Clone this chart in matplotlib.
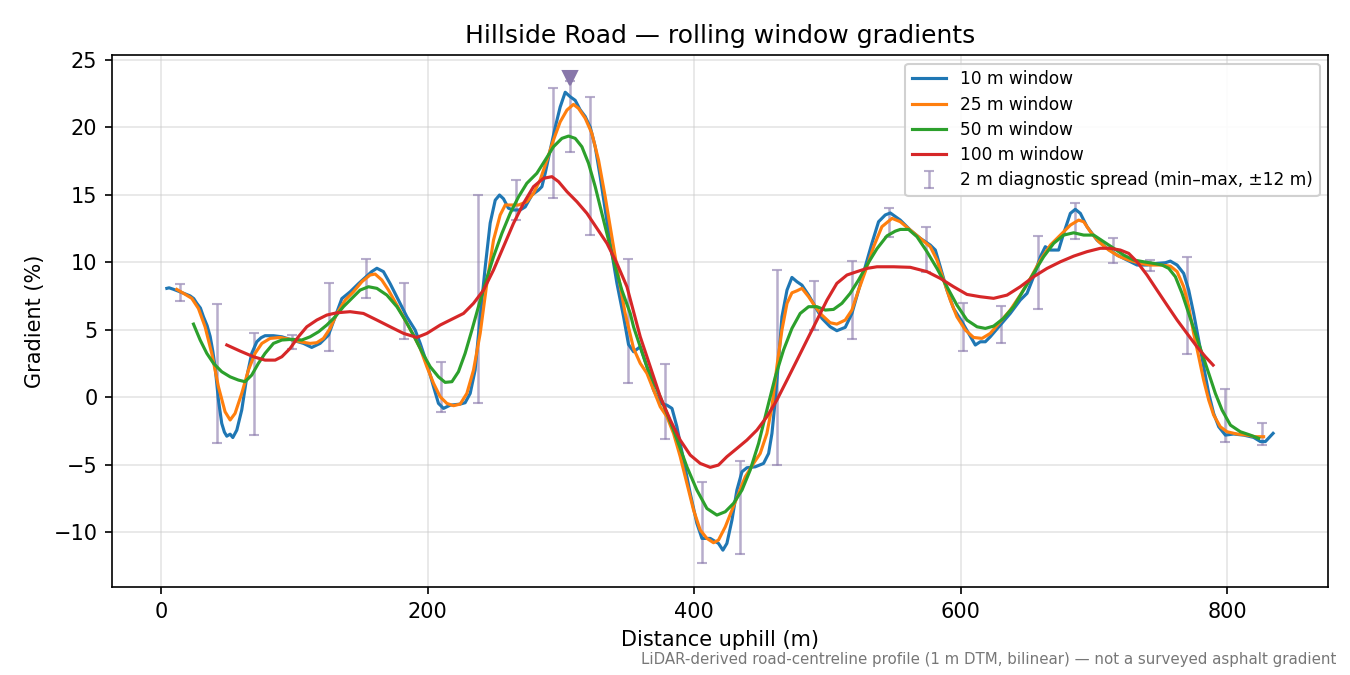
import matplotlib
matplotlib.use("Agg")
import matplotlib.pyplot as plt
import numpy as np

# 10 m window
x10 = [4.3, 6, 9, 14.3, 18, 21.8, 24.5, 26.8, 29.5, 31.8, 34.5, 36.8, 38.8, 40.5, 43, 45.5, 47.5, 49.3, 51.8, 53.8, 56.8,
       60.5, 64.3, 68, 71.8, 75, 78, 84.3, 90.6, 99.3, 106.8, 113, 119.3, 125.6, 130.6, 135.6, 141.8, 148, 154.4, 158,
       161.9, 166.8, 171.9, 178, 184.4, 190.6, 194.4, 199.4, 204.4, 208.1, 211.9, 216.9, 224.4, 228.1, 231.9, 235.6,
       239.4, 243.2, 246.9, 250.7, 253.9, 256.9, 260.6, 264.4, 269.4, 273.2, 278.2, 283.2, 285.7, 288.2, 291.9, 295.7,
       299.4, 303.2, 306.9, 310.7, 314.4, 318.2, 322, 325.7, 329.5, 333.2, 337, 342, 347, 350.7, 354.5, 359.5, 364.5,
       369.5, 374.5, 379.5, 383.3, 387, 392, 397, 402, 405.8, 412, 418.2, 421.5, 424.5, 428.3, 432, 435.8, 439.5, 445.8,
       452, 455.8, 458.3, 460.8, 463.3, 465.8, 469.6, 473.3, 477.1, 480.8, 485.8, 490.8, 495.8, 502, 507, 513.3, 518.3,
       523.3, 528.3, 533.3, 538.3, 543.3, 547.1, 554.6, 562.1, 569.6, 577.1, 580.9, 584.6, 589.6, 594.6, 600.9, 605.9,
       610.9, 614.6, 618.4, 622.1, 629.6, 637.1, 644.6, 649.7, 654.6, 659.7, 663.4, 667.2, 673.4, 677.2, 682.2, 685.9,
       689.7, 694.7, 702.2, 709.7, 717.2, 724.7, 732.2, 739.7, 747.2, 753.5, 757.2, 762.3, 767.2, 771, 774.7, 778.5,
       782.2, 786, 789.7, 793.5, 798.5, 804.7, 812.2, 819.7, 824.8, 828.5, 834.3]
y10 = [8.06, 8.1, 8.0, 7.8, 7.65, 7.5, 7.3, 6.95, 6.6, 5.95, 5.3, 4.5, 3.4, 2.25, -0.2, -1.95, -2.6, -2.9, -2.75, -3.0, -2.45,
       -0.96, 1.5, 3.24, 4.1, 4.4, 4.55, 4.55, 4.47, 4.2, 3.98, 3.68, 3.98, 4.6, 5.95, 7.3, 7.8, 8.4, 8.97, 9.3,
       9.55, 9.3, 8.4, 7.2, 5.95, 4.97, 3.98, 2.5, 0.77, -0.47, -0.84, -0.6, -0.52, -0.42, 0.27, 2.0,
       5.95, 9.66, 12.9, 14.6, 14.98, 14.7, 14.0, 13.87, 13.87, 14.1, 14.98, 15.35, 15.6, 16.6, 18.3, 20.0,
       21.5, 22.6, 22.27, 22.0, 21.3, 20.8, 20.0, 18.56, 16.3, 13.87, 11.4, 8.43, 5.95, 3.9, 3.36, 3.73, 2.25,
       0.52, -0.47, -0.6, -0.84, -2.2, -4.67, -7.14, -9.37, -10.48, -10.48, -10.85, -11.35, -10.85, -9.12, -6.9, -5.54, -5.24, -5.17,
       -4.92, -4.18, -2.7, -0.22, 2.74, 5.95, 7.93, 8.87, 8.55, 8.3, 7.56, 6.7, 5.84, 5.21, 4.92, 5.17, 6.2,
       7.93, 9.66, 11.4, 13.0, 13.5, 13.65, 13.12, 12.38, 11.77, 11.27, 10.9, 9.66, 7.93, 6.57, 5.58, 4.72,
       3.86, 4.1, 4.1, 4.47, 5.34, 6.2, 7.19, 7.69, 8.92, 10.4, 11.15, 10.9, 10.9, 12.14, 13.62, 13.92,
       13.62, 12.63, 11.64, 11.03, 10.53, 10.16, 9.79, 9.79, 9.91, 9.96, 10.08, 9.79, 9.17, 7.93, 6.2, 4.22,
       2.25, 0.27, -1.21, -2.2, -2.82, -2.74, -2.82, -2.99, -3.3, -3.3, -2.69]

# 25 m window
x25 = [11.8, 16.8, 23, 28, 33, 38, 43, 48, 51.8, 55.5, 60.5, 65.5, 70.5, 75.6, 81.8, 89.3, 96.8, 104.3, 111.8, 116.8,
       121.8, 126.8, 131.9, 138.1, 144.3, 150.6, 156.8, 160.6, 165.6, 170.6, 176.9, 183.1, 189.3, 194.4, 199.4, 204.4,
       209.4, 214.4, 219.4, 224.4, 229.4, 234.4, 239.4, 244.4, 249.4, 254.4, 258.2, 263.2, 268.2, 274.4, 279.4, 284.4,
       289.5, 294.4, 299.4, 304.5, 309.4, 313.2, 318.2, 323.2, 328.2, 333.2, 338.2, 343.2, 348.2, 354.5, 359.5, 364.5,
       369.5, 374.5, 379.5, 384.5, 389.5, 394.5, 399.5, 404.5, 409.5, 414.5, 418.2, 423.3, 428.3, 433.3, 438.3, 444.5,
       449.5, 454.5, 458.3, 462, 465.8, 469.6, 473.3, 477.1, 480.8, 485.8, 490.8, 495.8, 502, 507, 513.3, 518.3, 523.3,
       529.6, 534.6, 540.8, 548.4, 554.6, 562.1, 569.6, 577.1, 582.1, 587.1, 592.1, 597.1, 603.4, 609.6, 615.9, 622.1,
       629.6, 637.1, 644.6, 652.2, 659.7, 667.2, 674.7, 682.2, 688.4, 692.2, 697.2, 703.5, 711, 718.4, 725.9, 734.7,
       742.2, 749.7, 757.2, 762.3, 767.2, 771, 774.7, 778.5, 782.2, 786, 789.7, 794.7, 799.7, 807.2, 814.7, 820.9, 827.2]
y25 = [7.98, 7.69, 7.32, 6.57, 5.21, 3.24, 0.77, -1.09, -1.7, -1.21, 0.27, 2.0, 3.24, 3.98, 4.35, 4.42, 4.28, 4.1, 3.98, 4.03,
       4.35, 5.09, 6.2, 7.19, 7.8, 8.55, 9.05, 9.12, 8.68, 7.93, 6.82, 5.71, 4.6, 3.61, 2.25, 1.02,
       0.02, -0.47, -0.64, -0.52, 0.27, 2.0, 4.72, 8.43, 11.64, 13.5, 14.24, 14.24, 14.24, 14.48, 15.1, 16.1,
       17.57, 19.06, 20.4, 21.28, 21.7, 21.4, 20.67, 19.55, 17.57, 14.85, 11.89, 8.92, 6.2, 3.6, 2.5, 1.76,
       0.52, -0.72, -1.46, -2.7, -4.42, -6.4, -8.38, -9.86, -10.48, -10.8, -10.6, -9.62, -8.38, -7.14, -5.91, -4.92,
       -4.18, -2.7, -0.72, 2.25, 4.97, 6.95, 7.73, 7.88, 8.06, 7.44, 6.7, 6.08, 5.51, 5.41, 5.71, 6.45, 7.93,
       9.66, 11.15, 12.63, 13.25, 13.0, 12.38, 11.77, 11.15, 10.16, 8.68, 7.19, 5.95, 4.97, 4.42, 4.35, 4.72,
       5.58, 6.45, 7.56, 8.8, 10.16, 11.27, 12.01, 12.75, 13.12, 13.0, 12.26, 11.52, 10.9, 10.45, 10.16, 9.91,
       9.79, 9.79, 9.71, 9.3, 8.18, 6.7, 4.72, 2.99, 1.26, -0.22, -1.33, -2.2, -2.57, -2.74, -2.82, -2.94, -2.94]

# 50 m window
x50 = [24.3, 29.3, 34.3, 39.3, 45.5, 51.8, 58, 63, 68, 73, 78, 84.3, 90.6, 98.1, 105.6, 111.8, 118.1, 124.3, 130.6, 136.8,
       143.1, 149.3, 155.6, 161.9, 169.4, 176.9, 183.1, 189.3, 195.6, 201.9, 208.1, 213.1, 218.2, 223.1, 228.1, 233.2,
       238.1, 243.2, 249.4, 255.7, 261.9, 268.2, 274.4, 281.9, 288.2, 294.4, 300.7, 305.7, 310.7, 315.7, 320.7, 325.7,
       330.7, 335.7, 340.7, 345.7, 352, 354.5, 364.5, 374.5, 384.5, 394.5, 402, 409.5, 417, 423.3, 429.5, 435.8, 442,
       448.3, 454.5, 460.8, 467, 473.3, 479.5, 485.8, 492.1, 498.3, 504.5, 510.8, 517, 523.3, 529.6, 537.1, 544.6,
       550.8, 554.6, 560.8, 567.1, 574.6, 582.1, 589.6, 597.1, 604.6, 612.2, 618.4, 624.6, 632.1, 639.6, 647.1, 654.6,
       662.1, 669.7, 677.2, 684.7, 692.2, 699.7, 707.2, 714.7, 722.2, 729.7, 737.2, 744.7, 751, 756, 761, 766, 771,
       776, 781, 786, 791, 796, 802.3, 809.7, 817.2, 823.5]
y50 = [5.41, 4.23, 3.24, 2.5, 1.88, 1.5, 1.26, 1.14, 1.63, 2.5, 3.24, 3.98, 4.23, 4.28, 4.23, 4.47, 4.84, 5.34, 5.95, 6.7,
       7.32, 7.93, 8.18, 8.06, 7.56, 6.7, 5.71, 4.6, 3.36, 2.25, 1.5, 1.09, 1.14, 1.88, 3.24, 4.97,
       6.7, 8.43, 10.4, 12.14, 13.62, 14.85, 15.85, 16.59, 17.57, 18.56, 19.18, 19.35, 19.18, 18.56, 17.33, 15.6,
       13.62, 11.64, 9.66, 7.93, 6.2, 5.2, 2.25, 0.02, -2.45, -5.17, -6.9, -8.26, -8.75, -8.5, -7.88, -6.9, -5.41,
       -3.43, -0.96, 1.5, 3.49, 5.09, 6.2, 6.7, 6.7, 6.45, 6.5, 6.95, 7.69, 8.68, 9.79, 11.0, 11.95,
       12.3, 12.43, 12.43, 11.89, 10.78, 9.54, 8.18, 6.82, 5.71, 5.21, 5.09, 5.26, 5.84, 6.7, 7.93, 9.17,
       10.4, 11.4, 12.01, 12.18, 12.01, 12.01, 11.52, 11.03, 10.53, 10.16, 10.03, 9.91, 9.79, 9.54, 8.92, 7.69, 6.2,
       4.72, 3.24, 1.76, 0.27, -0.96, -2.08, -2.57, -2.82, -3.06]

# 100 m window
x100 = [49.3, 59.3, 69.3, 78, 85.6, 90.6, 96.8, 103, 109.3, 116.8, 124.3, 131.9, 141.8, 151.8, 161.9, 171.9, 181.9, 191.9,
        199.4, 209.4, 216.9, 226.9, 234.4, 241.9, 249.4, 256.9, 264.4, 271.9, 279.4, 286.9, 293.2, 298.2, 304.5, 312,
        319.5, 327, 334.5, 342, 349.5, 359.5, 367, 374.5, 382, 389.5, 397, 404.5, 412, 418.2, 424.5, 432, 439.5, 447,
        454.5, 462, 469.6, 477.1, 484.6, 492.1, 499.6, 507, 514.6, 522.1, 529.6, 537.1, 549.6, 562.1, 574.6, 584.6,
        594.6, 604.6, 614.6, 624.6, 634.7, 644.6, 654.6, 664.7, 674.7, 684.7, 694.7, 704.7, 712.2, 719.7, 726, 732.2,
        739.7, 747.2, 754.7, 762.3, 769.7, 777.2, 783.5, 789.3]
y100 = [3.86, 3.41, 2.99, 2.74, 2.74, 2.99, 3.61, 4.47, 5.21, 5.71, 6.08, 6.25, 6.33, 6.2, 5.71, 5.21, 4.72, 4.42,
        4.72, 5.34, 5.71, 6.2, 6.95, 7.93, 9.42, 11.15, 12.88, 14.36, 15.6, 16.22, 16.34, 15.97, 15.23, 14.48,
        13.62, 12.51, 11.4, 9.91, 8.18, 4.47, 2.25, 0.02, -1.7, -3.19, -4.3, -4.92, -5.21, -5.04, -4.42, -3.81, -3.19, -2.45,
        -1.46, -0.22, 1.26, 2.74, 4.23, 5.71, 7.19, 8.43, 9.05, 9.3, 9.54, 9.66, 9.66, 9.62, 9.3, 8.8,
        8.18, 7.61, 7.44, 7.32, 7.56, 8.18, 8.92, 9.54, 10.03, 10.45, 10.78, 11.03, 11.03, 10.9, 10.65, 10.03,
        9.05, 7.93, 6.82, 5.71, 4.72, 3.73, 2.99, 2.37]

# 2 m diagnostic spread (min / max within +-12 m)
spread_x = [14, 42, 70, 98, 126, 154, 182, 210, 238, 266, 294, 307, 322, 350, 378, 406, 434, 462, 490, 518, 546,
            574, 602, 630, 658, 686, 714, 742, 770, 798, 826]
spread_max = [8.38, 6.9, 4.72, 4.6, 8.48, 10.23, 8.48, 2.57, 14.98, 16.09, 22.94, 23.4, 22.27, 10.23, 2.45, -6.3, -4.75,
              9.42, 8.6, 10.08, 14.05, 12.6, 6.95, 6.75, 11.94, 14.41, 11.77, 10.16, 10.38, 0.59, -1.9]
spread_min = [7.14, -3.39, -2.82, 3.56, 3.41, 7.36, 4.33, -1.09, -0.47, 13.12, 14.78, 18.19, 12.01, 1.06, -3.11, -12.29,
              -11.62, -5.04, 4.97, 4.33, 11.89, 9.3, 3.43, 4.03, 6.5, 11.69, 9.96, 9.37, 3.16, -3.31, -3.56]

peak_x = [307]
peak_y = [23.65]

fig = plt.figure(figsize=(9, 4.5), dpi=150)
ax = fig.add_axes([0.083, 0.130, 0.901, 0.7885])

ax.plot(x10, y10, color='#1f77b4', lw=1.5, label='10 m window', zorder=4)
ax.plot(x25, y25, color='#ff7f0e', lw=1.5, label='25 m window', zorder=4)
ax.plot(x50, y50, color='#2ca02c', lw=1.5, label='50 m window', zorder=4)
ax.plot(x100, y100, color='#d62728', lw=1.5, label='100 m window', zorder=4)

sx = np.array(spread_x, dtype=float)
smax = np.array(spread_max)
smin = np.array(spread_min)
mid = (smax + smin) / 2
ax.errorbar(sx, mid, yerr=[mid - smin, smax - mid], fmt='none', ecolor='#8877aa', alpha=0.6,
            elinewidth=1.2, capsize=2.5, capthick=1.0, zorder=3,
            label='2 m diagnostic spread (min\u2013max, \u00b112 m)')
ax.plot(peak_x, peak_y, marker='v', color='#8877aa', markersize=7, ls='none', zorder=5)

ax.set_xlim(-36.8, 875.8)
ax.set_ylim(-14.1, 25.36)
ax.set_xticks([0, 200, 400, 600, 800])
ax.set_yticks([-10, -5, 0, 5, 10, 15, 20, 25])
ax.grid(True, color='#cccccc', alpha=0.5, lw=0.8)
ax.set_axisbelow(True)
ax.set_title('Hillside Road \u2014 rolling window gradients', fontsize=12)
ax.set_xlabel('Distance uphill (m)', fontsize=10)
ax.set_ylabel('Gradient (%)', fontsize=10)
ax.tick_params(labelsize=10)
ax.legend(loc='upper right', fontsize=8.2, labelspacing=0.42, framealpha=0.9)

fig.text(0.99, 0.012, 'LiDAR-derived road-centreline profile (1 m DTM, bilinear) \u2014 not a surveyed asphalt gradient',
         ha='right', va='bottom', fontsize=7.2, color='#777777')

fig.savefig('out.png', dpi=150)
